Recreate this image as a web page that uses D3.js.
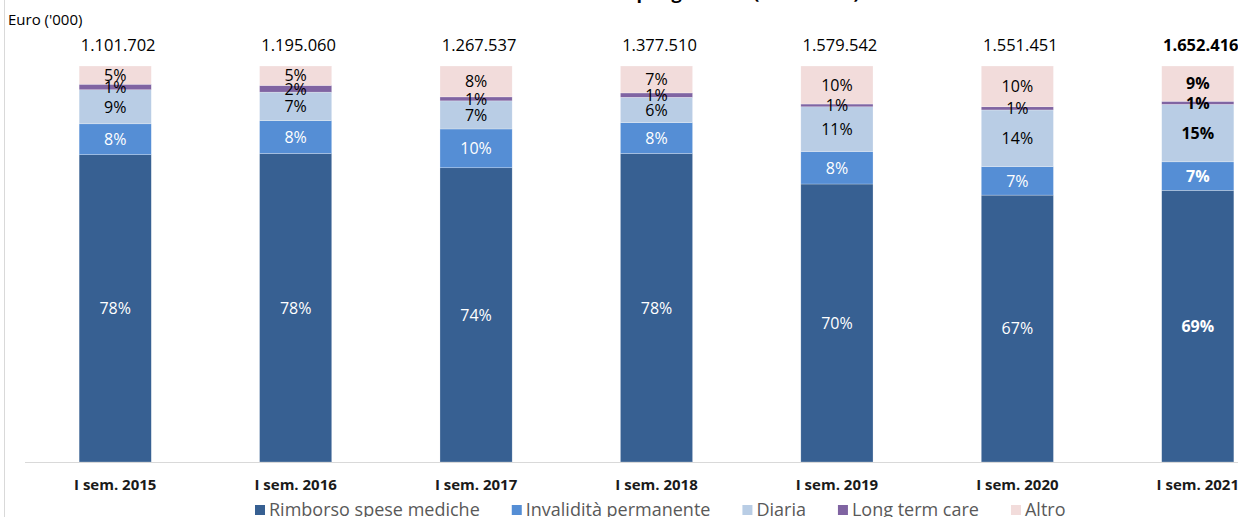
<!DOCTYPE html>
<html>
<head>
<meta charset="utf-8">
<script src="https://cdn.jsdelivr.net/npm/d3@7"></script>
<style>
  html, body { margin: 0; padding: 0; background: #fff; }
  svg { display: block; font-family: "Open Sans", "Liberation Sans", sans-serif; }
</style>
</head>
<body>
<div id="chart"></div>
<script>
'use strict'

// Data (shares in %).
const categories = ['I sem. 2015', 'I sem. 2016', 'I sem. 2017', 'I sem. 2018', 'I sem. 2019', 'I sem. 2020', 'I sem. 2021'];
const totals = [1101702, 1195060, 1267537, 1377510, 1579542, 1551451, 1652416];
const seriesNames = ['Rimborso spese mediche', 'Invalidità permanente', 'Diaria', 'Long term care', 'Altro'];
const rimborso = [77.6, 77.9, 74.3, 77.9, 70.2, 67.4, 68.6];
const invalidita = [7.8, 8.3, 9.8, 7.8, 8.2, 7.2, 7.2];
const diaria = [8.6, 7.2, 7.1, 6.4, 11.3, 14.3, 14.5];
const ltc = [1.4, 1.7, 1.0, 1.1, 0.7, 0.8, 0.8];
const altro = [4.6, 4.9, 7.8, 6.8, 9.6, 10.3, 8.9];

const colors = ['#376092', '#558ed5', '#b9cde5', '#8064a2', '#f2dcdb'];
const labelColors = ['#fff', '#fff', '#000', '#000', '#000'];

// Dimensions
const width = 1238,
    height = 517,
    margin = {top: 66, bottom: 55, left: 25},
    plotRight = 1288;

const rows = categories.map((c, i) => ({
    cat: c,
    total: totals[i],
    [seriesNames[0]]: rimborso[i],
    [seriesNames[1]]: invalidita[i],
    [seriesNames[2]]: diaria[i],
    [seriesNames[3]]: ltc[i],
    [seriesNames[4]]: altro[i]
}));

const stacked = d3.stack().keys(seriesNames)(rows);

const x = d3.scaleBand()
    .domain(categories)
    .range([margin.left, plotRight])
    .paddingInner(0.6)
    .paddingOuter(0.3);

const y = d3.scaleLinear()
    .domain([0, 100])
    .range([height - margin.bottom, margin.top]);

const itLocale = d3.formatLocale({decimal: ',', thousands: '.', grouping: [3], currency: ['€', '']});
const fmt = itLocale.format(',');

const svg = d3.select('#chart')
    .append('svg')
        .attr('width', width)
        .attr('height', height)
        .attr('viewBox', [0, 0, width, height]);

// Outer border (only left edge visible) and title cut by the frame.
svg.append('line')
    .attr('x1', 4.5).attr('x2', 4.5)
    .attr('y1', 0).attr('y2', height)
    .attr('stroke', '#d9d9d9');

svg.append('text')
    .attr('x', (margin.left + plotRight) / 2)
    .attr('y', -1)
    .attr('text-anchor', 'middle')
    .attr('font-size', 18)
    .attr('font-weight', 700)
    .attr('fill', '#000')
    .text('Premi contabilizzati per garanzia (valori in %)');

svg.append('text')
    .attr('x', 8)
    .attr('y', 25)
    .attr('font-size', 15)
    .attr('fill', '#000')
    .text("Euro ('000)");

// Bars
const layers = svg.append('g').attr('class', 'bars')
    .selectAll('g')
    .data(stacked)
    .join('g')
        .attr('fill', (d, i) => colors[i]);

layers.selectAll('rect')
    .data(d => d)
    .join('rect')
        .attr('x', d => x(d.data.cat))
        .attr('y', d => y(d[1]))
        .attr('width', x.bandwidth())
        .attr('height', d => y(d[0]) - y(d[1]))
        .attr('stroke', '#fff')
        .attr('stroke-width', 0.5)
        .attr('stroke-opacity', 0.5);

// Segment labels
stacked.forEach((layer, li) => {
    svg.append('g')
        .selectAll('text')
        .data(layer)
        .join('text')
            .attr('x', d => x(d.data.cat) + x.bandwidth() / 2)
            .attr('y', d => (y(d[0]) + y(d[1])) / 2)
            .attr('dy', '0.36em')
            .attr('text-anchor', 'middle')
            .attr('font-size', 16)
            .attr('font-weight', (d, i) => i === categories.length - 1 ? 700 : 400)
            .attr('fill', labelColors[li])
            .text(d => Math.round(d[1] - d[0]) + '%');
});

// Totals above bars
svg.append('g')
    .selectAll('text')
    .data(rows)
    .join('text')
        .attr('x', d => x(d.cat) + x.bandwidth() / 2 + 3)
        .attr('y', 45)
        .attr('dy', '0.36em')
        .attr('text-anchor', 'middle')
        .attr('font-size', 16.5)
        .attr('font-weight', (d, i) => i === rows.length - 1 ? 700 : 400)
        .attr('fill', '#000')
        .text(d => fmt(d.total));

// X axis
const xAxis = d3.axisBottom(x).tickSize(0).tickPadding(17);
svg.append('g')
    .attr('transform', `translate(0, ${height - margin.bottom})`)
    .call(xAxis)
    .call(g => g.select('.domain').attr('stroke', '#d9d9d9').attr('d', `M${margin.left},0.5H${plotRight}`))
    .call(g => g.selectAll('.tick text')
        .attr('font-family', '"Open Sans", sans-serif')
        .attr('font-size', 15)
        .attr('font-weight', 700)
        .attr('fill', '#1a1a1a'));

// Legend
const legend = svg.append('g').attr('transform', 'translate(255, 510)');
let lx = 0;
seriesNames.forEach((name, i) => {
    const item = legend.append('g').attr('transform', `translate(${lx}, 0)`);
    item.append('rect')
        .attr('x', 0).attr('y', -5)
        .attr('width', 10).attr('height', 10)
        .attr('fill', colors[i]);
    const t = item.append('text')
        .attr('x', 14)
        .attr('y', 0)
        .attr('dy', '0.36em')
        .attr('font-size', 18)
        .attr('fill', '#595959')
        .text(name);
    lx += 14 + t.node().getComputedTextLength() + 32;
});
</script>
</body>
</html>
